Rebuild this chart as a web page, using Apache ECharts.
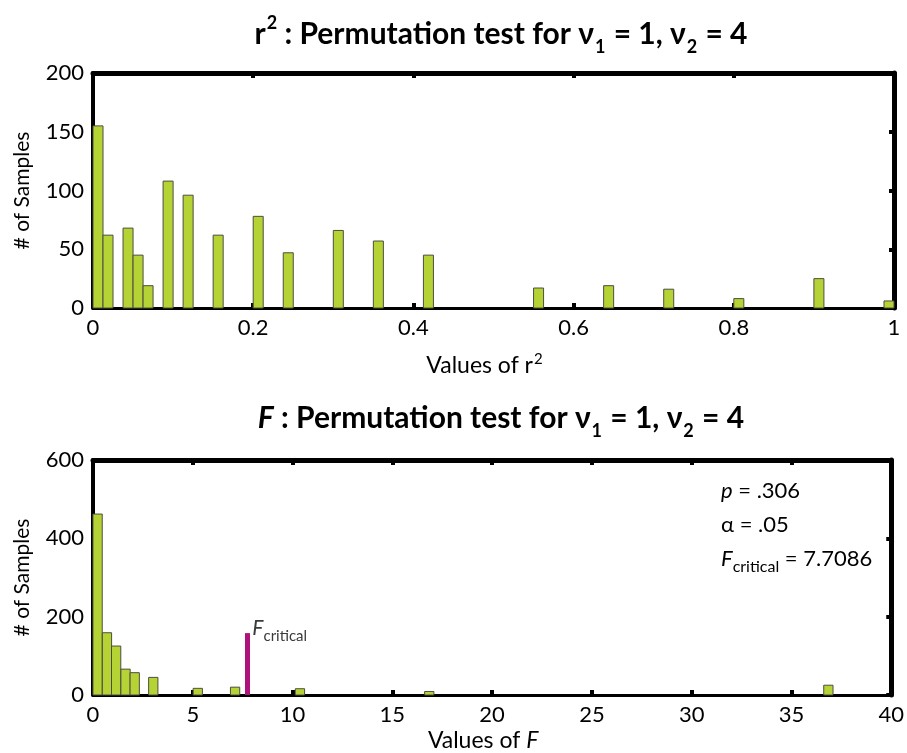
<!DOCTYPE html>
<html>
<head>
<meta charset="utf-8">
<script src="https://cdn.jsdelivr.net/npm/echarts@6/dist/echarts.min.js"></script>
<style>
  html, body { margin: 0; padding: 0; background: #fff; }
  #chart { width: 907px; height: 753px; }
</style>
</head>
<body>
<div id="chart"></div>
<script>
// r^2 histogram: bin centres (80 bins over 0..1) and counts
const r2Centers = [0.00625, 0.01875, 0.04375, 0.05625, 0.06875, 0.09375, 0.11875, 0.15625, 0.20625, 0.24375,
                   0.30625, 0.35625, 0.41875, 0.55625, 0.64375, 0.71875, 0.80625, 0.90625, 0.99375];
const r2Counts = [155, 62, 68, 45, 19, 108, 96, 62, 78, 47, 66, 57, 45, 17, 19, 16, 8, 25, 6];
const r2BinWidth = 0.0125;

// F histogram: bin centres and counts
const fCenters = [0.23, 0.70, 1.16, 1.63, 2.09, 3.02, 5.25, 7.12, 10.37, 16.85, 36.85];
const fCounts = [462, 159, 125, 66, 57, 45, 17, 20, 16, 9, 25];
const fBinWidth = 0.465;

const fCritical = 7.7086;
const fCriticalHeight = 158;
const statLines = ['{i|p}{n| = .306}', '{n|α = .05}', '{i|F}{s|critical}{n| = 7.7086}'];

const FONT = 'Lato';
const BAR = '#b5d334';
const EDGE = '#4d4d40';
const MAGENTA = '#b0107a';
const GREY = '#3a3a3a';

const chart = echarts.init(document.getElementById('chart'));

function histItem(width) {
    return function (params, api) {
        const x = api.value(0);
        const y = api.value(1);
        const p0 = api.coord([x - width / 2, y]);
        const p1 = api.coord([x + width / 2, 0]);
        return {
            type: 'rect',
            shape: { x: p0[0], y: p0[1], width: p1[0] - p0[0], height: p1[1] - p0[1] },
            style: { fill: BAR, stroke: EDGE, lineWidth: 1 }
        };
    };
}

const tick = { show: true, inside: true, length: 5, lineStyle: { color: '#000', width: 4 } };
const label = { fontSize: 22, color: '#000', fontFamily: FONT };

function xAxes(grid, max, interval, name, gap) {
    return [
        {
            type: 'value', gridIndex: grid, position: 'bottom', min: 0, max: max, interval: interval,
            axisLine: { onZero: false, lineStyle: { color: '#000', width: 3 } },
            axisTick: tick, splitLine: { show: false },
            axisLabel: Object.assign({ margin: 9 }, label),
            name: name, nameLocation: 'middle', nameGap: gap,
            nameTextStyle: {
                fontSize: 23, color: '#000', fontFamily: FONT, padding: [0, 18, 0, 0],
                rich: {
                    a: { fontSize: 23, fontFamily: FONT, color: '#000', verticalAlign: 'bottom' },
                    i: { fontSize: 23, fontFamily: FONT, color: '#000', fontStyle: 'italic', verticalAlign: 'bottom' },
                    s: { fontSize: 15, fontFamily: FONT, color: '#000', verticalAlign: 'bottom', padding: [0, 0, 10, 1] }
                }
            }
        },
        {
            type: 'value', gridIndex: grid, position: 'top', min: 0, max: max, interval: interval,
            axisLine: { onZero: false, lineStyle: { color: '#000', width: 5 } },
            axisTick: tick, axisLabel: { show: false }, splitLine: { show: false }
        }
    ];
}

function yAxes(grid, max, interval) {
    return [
        {
            type: 'value', gridIndex: grid, position: 'left', min: 0, max: max, interval: interval,
            axisLine: { show: true, onZero: false, lineStyle: { color: '#000', width: 4 } },
            axisTick: tick, splitLine: { show: false },
            axisLabel: Object.assign({ margin: 9 }, label),
            name: '# of Samples', nameLocation: 'middle', nameGap: 60, nameRotate: 90,
            nameTextStyle: { fontSize: 21, color: '#000', fontFamily: FONT }
        },
        {
            type: 'value', gridIndex: grid, position: 'right', min: 0, max: max, interval: interval,
            axisLine: { show: true, onZero: false, lineStyle: { color: '#000', width: 5 } },
            axisTick: tick, axisLabel: { show: false }, splitLine: { show: false }
        }
    ];
}

const titleRich = {
    v: { fontSize: 30, fontWeight: 'bold', fontFamily: FONT, color: '#000', verticalAlign: 'bottom', padding: [0, 0, 7, 0] },
    fi: { fontSize: 30, fontWeight: 'bold', fontStyle: 'italic', fontFamily: FONT, color: '#000', verticalAlign: 'bottom', padding: [0, 0, 7, 0] },
    sup: { fontSize: 18, fontWeight: 'bold', fontFamily: FONT, color: '#000', verticalAlign: 'bottom', padding: [0, 0, 24, 1] },
    sub: { fontSize: 18, fontWeight: 'bold', fontFamily: FONT, color: '#000', verticalAlign: 'bottom', padding: [0, 1, 0, 1] }
};

const statRich = {
    n: { fontSize: 22, fontFamily: FONT, color: GREY, verticalAlign: 'bottom', padding: [0, 0, 5, 0] },
    i: { fontSize: 22, fontStyle: 'italic', fontFamily: FONT, color: GREY, verticalAlign: 'bottom', padding: [0, 0, 5, 0] },
    s: { fontSize: 16, fontFamily: FONT, color: GREY, verticalAlign: 'bottom' }
};

const option = {
    animation: false,
    backgroundColor: '#fff',
    title: [
        {
            text: '{v|r}{sup|2}{v| : Permutation test for ν}{sub|1}{v| = 1, ν}{sub|2}{v| = 4}',
            left: 496, top: 9, textAlign: 'center',
            textStyle: { rich: titleRich }
        },
        {
            text: '{fi|F}{v| : Permutation test for ν}{sub|1}{v| = 1, ν}{sub|2}{v| = 4}',
            left: 496, top: 398, textAlign: 'center',
            textStyle: { rich: titleRich }
        }
    ],
    grid: [
        { left: 93, right: 13, top: 73, height: 235 },
        { left: 93, right: 13, top: 460, height: 235 }
    ],
    xAxis: [].concat(
        xAxes(0, 1, 0.2, '{a|Values of r}{s|2}', 44),
        xAxes(1, 40, 5, '{a|Values of }{i|F}', 34)
    ),
    yAxis: [].concat(yAxes(0, 200, 50), yAxes(1, 600, 200)),
    graphic: statLines.map((t, k) => ({
        type: 'text', left: 721, top: 480 + k * 34,
        style: { text: t, rich: statRich }
    })),
    series: [
        {
            type: 'custom', xAxisIndex: 0, yAxisIndex: 0,
            renderItem: histItem(r2BinWidth),
            data: r2Centers.map((c, k) => [c, r2Counts[k]])
        },
        {
            type: 'custom', xAxisIndex: 2, yAxisIndex: 2,
            renderItem: histItem(fBinWidth),
            data: fCenters.map((c, k) => [c, fCounts[k]]),
            markLine: {
                silent: true, symbol: ['none', 'none'],
                lineStyle: { color: MAGENTA, width: 5, type: 'solid' },
                label: { show: false },
                data: [[{ coord: [fCritical, 0] }, { coord: [fCritical, fCriticalHeight] }]]
            },
            markPoint: {
                silent: true, symbol: 'circle', symbolSize: 1,
                itemStyle: { color: 'transparent' },
                label: {
                    show: true, position: 'right', distance: 4, offset: [1, -2],
                    formatter: '{i|F}{s|critical}',
                    rich: {
                        i: { fontSize: 21, fontStyle: 'italic', fontFamily: FONT, color: GREY, verticalAlign: 'bottom', padding: [0, 0, 5, 0] },
                        s: { fontSize: 15, fontFamily: FONT, color: GREY, verticalAlign: 'bottom' }
                    }
                },
                data: [{ coord: [fCritical, fCriticalHeight] }]
            }
        }
    ]
};

chart.setOption(option);
</script>
</body>
</html>
